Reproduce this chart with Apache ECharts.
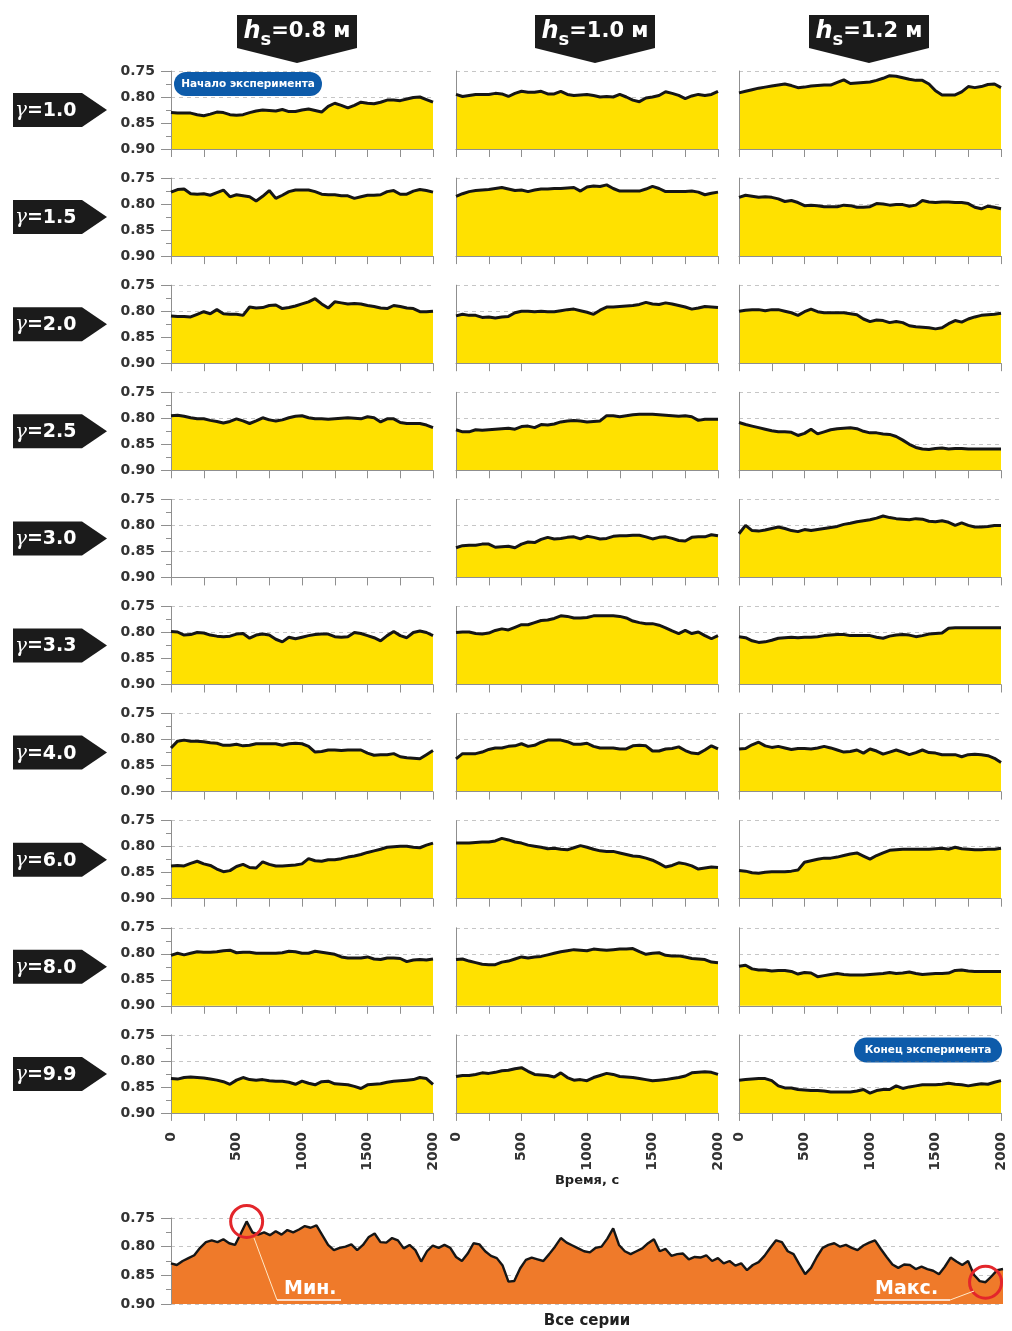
<!DOCTYPE html>
<html>
<head>
<meta charset="utf-8">
<script src="https://cdn.jsdelivr.net/npm/echarts@6/dist/echarts.min.js"></script>
<style>
html, body { margin: 0; padding: 0; background: #fff; }
#chart { width: 1012px; height: 1331px; }
</style>
</head>
<body>
<div id="chart"></div>
<script>
// time axis of the small panels, s
const times = [0,50,100,150,200,250,300,350,400,450,500,550,600,650,700,750,800,850,900,950,
  1000,1050,1100,1150,1200,1250,1300,1350,1400,1450,1500,1550,1600,1650,1700,1750,1800,1850,1900,1950,2000];
const yTicks = [0.75, 0.80, 0.85, 0.90];
const gammaValues = ['1.0','1.5','2.0','2.5','3.0','3.3','4.0','6.0','8.0','9.9'];
const hsLabels = ['0.8', '1.0', '1.2'];

// γ = 1.0
const g10_h08 = [0.830,0.831,0.831,0.831,0.834,0.836,0.833,0.829,0.830,0.834,0.835,0.834,0.830,0.827,0.825,0.826,0.827,0.824,0.828,0.828,0.825,0.823,0.826,0.829,0.818,0.812,0.816,0.821,0.816,0.810,0.812,0.813,0.810,0.806,0.806,0.807,0.804,0.801,0.800,0.805,0.810];
const g10_h10 = [0.795,0.799,0.797,0.795,0.795,0.795,0.793,0.794,0.799,0.793,0.789,0.791,0.791,0.789,0.794,0.794,0.789,0.795,0.797,0.796,0.795,0.797,0.800,0.799,0.800,0.795,0.800,0.806,0.809,0.802,0.800,0.797,0.790,0.793,0.797,0.803,0.798,0.795,0.797,0.795,0.789];
const g10_h12 = [0.792,0.789,0.786,0.783,0.781,0.779,0.777,0.775,0.778,0.782,0.781,0.779,0.778,0.777,0.777,0.772,0.767,0.774,0.773,0.772,0.771,0.768,0.764,0.759,0.760,0.763,0.766,0.768,0.768,0.775,0.788,0.796,0.796,0.796,0.790,0.780,0.782,0.780,0.776,0.775,0.782];
// γ = 1.5
const g15_h08 = [0.777,0.772,0.771,0.780,0.781,0.780,0.783,0.778,0.773,0.786,0.782,0.784,0.786,0.794,0.785,0.774,0.789,0.783,0.776,0.773,0.773,0.773,0.776,0.781,0.782,0.782,0.784,0.784,0.789,0.786,0.783,0.783,0.782,0.776,0.774,0.781,0.781,0.775,0.772,0.774,0.777];
const g15_h10 = [0.785,0.780,0.776,0.774,0.773,0.772,0.770,0.768,0.771,0.774,0.773,0.776,0.773,0.771,0.771,0.770,0.770,0.769,0.768,0.775,0.767,0.765,0.766,0.763,0.770,0.775,0.775,0.775,0.775,0.771,0.766,0.770,0.776,0.776,0.776,0.776,0.775,0.777,0.782,0.779,0.777];
const g15_h12 = [0.787,0.783,0.785,0.787,0.786,0.787,0.790,0.795,0.793,0.797,0.803,0.802,0.803,0.805,0.805,0.805,0.802,0.803,0.806,0.806,0.805,0.799,0.800,0.802,0.801,0.801,0.804,0.802,0.793,0.796,0.797,0.796,0.796,0.797,0.797,0.799,0.806,0.809,0.804,0.806,0.809];
// γ = 2.0
const g20_h08 = [0.809,0.810,0.810,0.811,0.806,0.801,0.805,0.797,0.805,0.806,0.806,0.808,0.792,0.794,0.793,0.789,0.788,0.795,0.793,0.790,0.786,0.782,0.776,0.786,0.794,0.782,0.784,0.786,0.785,0.786,0.789,0.791,0.794,0.795,0.789,0.791,0.794,0.795,0.801,0.801,0.800];
const g20_h10 = [0.809,0.806,0.808,0.808,0.812,0.811,0.813,0.811,0.810,0.803,0.800,0.800,0.801,0.800,0.801,0.801,0.799,0.797,0.796,0.799,0.802,0.806,0.798,0.792,0.792,0.791,0.790,0.789,0.787,0.783,0.786,0.787,0.784,0.786,0.789,0.792,0.796,0.794,0.791,0.792,0.793];
const g20_h12 = [0.800,0.798,0.797,0.797,0.799,0.797,0.797,0.800,0.803,0.808,0.801,0.796,0.801,0.803,0.803,0.803,0.803,0.805,0.807,0.815,0.820,0.817,0.818,0.822,0.820,0.822,0.828,0.830,0.831,0.832,0.834,0.832,0.824,0.818,0.821,0.815,0.811,0.808,0.807,0.806,0.804];
// γ = 2.5
const g25_h08 = [0.795,0.794,0.796,0.799,0.801,0.801,0.804,0.806,0.809,0.806,0.801,0.805,0.810,0.805,0.799,0.803,0.805,0.803,0.799,0.796,0.795,0.799,0.801,0.801,0.802,0.801,0.800,0.799,0.800,0.801,0.797,0.799,0.807,0.801,0.801,0.808,0.810,0.810,0.810,0.813,0.818];
const g25_h10 = [0.822,0.826,0.826,0.822,0.823,0.822,0.821,0.820,0.819,0.821,0.816,0.815,0.818,0.812,0.813,0.811,0.807,0.805,0.804,0.805,0.807,0.806,0.805,0.795,0.795,0.797,0.795,0.793,0.792,0.792,0.792,0.793,0.794,0.795,0.796,0.795,0.797,0.804,0.802,0.802,0.802];
const g25_h12 = [0.808,0.812,0.815,0.818,0.821,0.824,0.826,0.826,0.827,0.833,0.829,0.821,0.830,0.826,0.822,0.820,0.819,0.818,0.820,0.825,0.828,0.828,0.830,0.831,0.835,0.842,0.850,0.856,0.859,0.860,0.858,0.857,0.859,0.858,0.858,0.859,0.859,0.859,0.859,0.859,0.859];
// γ = 3.0 (no run at hs = 0.8 m)
const g30_h08 = [];
const g30_h10 = [0.843,0.839,0.838,0.838,0.836,0.836,0.842,0.841,0.840,0.843,0.836,0.832,0.833,0.827,0.823,0.826,0.825,0.823,0.822,0.826,0.821,0.823,0.826,0.825,0.821,0.820,0.820,0.819,0.819,0.822,0.826,0.823,0.822,0.825,0.829,0.830,0.823,0.822,0.822,0.818,0.820];
const g30_h12 = [0.816,0.800,0.810,0.811,0.809,0.806,0.803,0.806,0.810,0.812,0.808,0.810,0.808,0.806,0.804,0.802,0.798,0.796,0.793,0.791,0.789,0.786,0.782,0.785,0.787,0.788,0.789,0.787,0.788,0.792,0.793,0.791,0.794,0.800,0.795,0.800,0.803,0.803,0.802,0.800,0.800];
// γ = 3.3
const g33_h08 = [0.798,0.799,0.805,0.804,0.800,0.801,0.805,0.807,0.808,0.807,0.803,0.802,0.811,0.805,0.803,0.805,0.813,0.818,0.809,0.812,0.809,0.806,0.804,0.803,0.803,0.808,0.809,0.808,0.800,0.802,0.806,0.810,0.816,0.806,0.798,0.806,0.810,0.800,0.797,0.800,0.806];
const g33_h10 = [0.800,0.799,0.799,0.802,0.803,0.801,0.796,0.793,0.795,0.790,0.785,0.785,0.781,0.777,0.776,0.773,0.768,0.769,0.772,0.772,0.771,0.768,0.768,0.768,0.768,0.769,0.772,0.778,0.781,0.783,0.783,0.786,0.791,0.797,0.802,0.796,0.802,0.799,0.806,0.812,0.806];
const g33_h12 = [0.808,0.810,0.816,0.819,0.818,0.815,0.811,0.810,0.809,0.810,0.809,0.809,0.808,0.806,0.805,0.804,0.804,0.806,0.806,0.806,0.806,0.809,0.811,0.807,0.805,0.804,0.805,0.808,0.806,0.803,0.802,0.801,0.792,0.791,0.791,0.791,0.791,0.791,0.791,0.791,0.791];
// γ = 4.0
const g40_h08 = [0.816,0.803,0.801,0.803,0.803,0.804,0.806,0.807,0.811,0.811,0.809,0.812,0.811,0.808,0.808,0.808,0.808,0.811,0.808,0.807,0.808,0.813,0.824,0.823,0.820,0.820,0.821,0.820,0.820,0.820,0.826,0.830,0.829,0.829,0.827,0.833,0.835,0.836,0.837,0.829,0.821];
const g40_h10 = [0.837,0.827,0.827,0.827,0.824,0.819,0.816,0.816,0.813,0.812,0.808,0.813,0.811,0.805,0.801,0.801,0.801,0.804,0.809,0.809,0.807,0.813,0.816,0.816,0.816,0.818,0.818,0.812,0.811,0.812,0.822,0.822,0.818,0.817,0.814,0.821,0.826,0.827,0.820,0.812,0.818];
const g40_h12 = [0.818,0.817,0.810,0.805,0.812,0.815,0.813,0.816,0.819,0.817,0.817,0.818,0.816,0.813,0.816,0.820,0.824,0.823,0.820,0.826,0.818,0.822,0.828,0.824,0.820,0.824,0.829,0.825,0.820,0.825,0.826,0.829,0.829,0.829,0.833,0.829,0.828,0.829,0.831,0.836,0.844];
// γ = 6.0
const g60_h08 = [0.837,0.836,0.837,0.832,0.828,0.833,0.836,0.843,0.848,0.846,0.838,0.834,0.840,0.841,0.829,0.834,0.837,0.837,0.836,0.835,0.833,0.823,0.827,0.828,0.825,0.825,0.823,0.820,0.818,0.815,0.811,0.808,0.805,0.801,0.800,0.799,0.799,0.801,0.802,0.797,0.793];
const g60_h10 = [0.793,0.793,0.793,0.792,0.791,0.791,0.789,0.784,0.787,0.791,0.793,0.797,0.799,0.801,0.804,0.803,0.805,0.806,0.802,0.798,0.801,0.805,0.808,0.809,0.809,0.812,0.815,0.818,0.819,0.822,0.826,0.832,0.839,0.836,0.831,0.833,0.837,0.843,0.841,0.839,0.840];
const g60_h12 = [0.846,0.847,0.850,0.851,0.849,0.848,0.848,0.848,0.847,0.845,0.830,0.827,0.824,0.822,0.822,0.820,0.817,0.814,0.812,0.818,0.824,0.817,0.812,0.807,0.806,0.805,0.805,0.805,0.805,0.805,0.804,0.803,0.805,0.801,0.804,0.805,0.806,0.806,0.805,0.805,0.803];
// γ = 8.0
const g80_h08 = [0.803,0.799,0.802,0.799,0.796,0.797,0.797,0.796,0.794,0.793,0.798,0.797,0.797,0.799,0.799,0.799,0.799,0.798,0.795,0.796,0.799,0.799,0.795,0.797,0.799,0.801,0.806,0.808,0.808,0.808,0.806,0.810,0.811,0.808,0.808,0.809,0.815,0.812,0.811,0.812,0.810];
const g80_h10 = [0.811,0.810,0.814,0.817,0.820,0.821,0.821,0.816,0.814,0.810,0.806,0.808,0.806,0.805,0.802,0.799,0.796,0.794,0.792,0.793,0.794,0.791,0.792,0.793,0.792,0.791,0.791,0.790,0.796,0.801,0.799,0.798,0.803,0.804,0.804,0.806,0.809,0.810,0.811,0.816,0.817];
const g80_h12 = [0.824,0.822,0.829,0.831,0.831,0.833,0.832,0.832,0.834,0.839,0.836,0.837,0.844,0.842,0.840,0.838,0.840,0.841,0.841,0.841,0.840,0.839,0.838,0.836,0.838,0.837,0.835,0.838,0.840,0.839,0.838,0.838,0.837,0.832,0.831,0.833,0.834,0.834,0.834,0.834,0.834];
// γ = 9.9
const g99_h08 = [0.834,0.835,0.832,0.831,0.832,0.833,0.835,0.837,0.840,0.845,0.837,0.832,0.836,0.837,0.836,0.838,0.839,0.839,0.841,0.845,0.839,0.843,0.846,0.840,0.839,0.844,0.845,0.846,0.849,0.853,0.846,0.845,0.844,0.841,0.839,0.838,0.837,0.836,0.832,0.834,0.845];
const g99_h10 = [0.830,0.828,0.828,0.826,0.823,0.824,0.822,0.819,0.818,0.815,0.813,0.820,0.826,0.827,0.828,0.831,0.823,0.832,0.837,0.836,0.838,0.832,0.828,0.824,0.826,0.830,0.831,0.832,0.834,0.836,0.838,0.837,0.836,0.834,0.832,0.829,0.823,0.822,0.821,0.822,0.826];
const g99_h12 = [0.837,0.836,0.835,0.834,0.834,0.838,0.848,0.852,0.852,0.855,0.856,0.857,0.857,0.858,0.860,0.860,0.860,0.860,0.858,0.855,0.862,0.857,0.855,0.855,0.848,0.853,0.850,0.848,0.846,0.846,0.846,0.845,0.843,0.845,0.846,0.848,0.846,0.844,0.845,0.841,0.838];

// all runs, one after another
const allSeries = [0.829,0.832,0.825,0.820,0.815,0.802,0.792,0.789,0.792,0.787,0.794,0.797,0.777,0.756,0.775,0.779,0.775,0.780,0.773,0.779,
  0.771,0.775,0.770,0.764,0.767,0.763,0.780,0.797,0.806,0.802,0.800,0.796,0.806,0.797,0.783,0.777,0.792,0.793,0.785,0.789,
  0.803,0.797,0.806,0.826,0.808,0.798,0.802,0.797,0.802,0.818,0.825,0.812,0.794,0.796,0.808,0.816,0.820,0.833,0.861,0.860,
  0.838,0.823,0.819,0.822,0.825,0.813,0.800,0.785,0.793,0.798,0.803,0.808,0.810,0.802,0.800,0.786,0.768,0.797,0.808,0.813,
  0.808,0.803,0.794,0.787,0.808,0.804,0.816,0.813,0.812,0.822,0.818,0.819,0.815,0.825,0.820,0.829,0.825,0.833,0.829,0.841,
  0.832,0.827,0.816,0.802,0.789,0.792,0.808,0.813,0.831,0.848,0.837,0.818,0.802,0.797,0.794,0.800,0.797,0.802,0.806,0.798,
  0.793,0.789,0.804,0.818,0.831,0.837,0.831,0.832,0.839,0.835,0.839,0.842,0.848,0.835,0.819,0.826,0.832,0.825,0.849,0.860,
  0.862,0.852,0.841,0.839];

const panels = [
  [g10_h08, g10_h10, g10_h12],
  [g15_h08, g15_h10, g15_h12],
  [g20_h08, g20_h10, g20_h12],
  [g25_h08, g25_h10, g25_h12],
  [g30_h08, g30_h10, g30_h12],
  [g33_h08, g33_h10, g33_h12],
  [g40_h08, g40_h10, g40_h12],
  [g60_h08, g60_h10, g60_h12],
  [g80_h08, g80_h10, g80_h12],
  [g99_h08, g99_h10, g99_h12]
];

const ROW_TOP = 71, ROW_STEP = 107.1, ROW_H = 78;
const COL_LEFT = [171, 456, 739], COL_W = 262;
const AXIS_GREY = '#8f8f8f';
const FONT = '"DejaVu Sans", sans-serif';

const grids = [], xAxes = [], yAxes = [], series = [];

const yAxisFor = (i, withLabels) => ({
  gridIndex: i,
  type: 'value',
  inverse: true,
  min: yTicks[0],
  max: yTicks[yTicks.length - 1],
  interval: 0.05,
  z: 3,
  axisLine: { show: true, lineStyle: { color: AXIS_GREY, width: 1 } },
  axisTick: { show: withLabels, length: 10, lineStyle: { color: AXIS_GREY } },
  minorTick: { show: withLabels, splitNumber: 2, length: 5, lineStyle: { color: AXIS_GREY } },
  axisLabel: {
    show: withLabels, margin: 16, formatter: v => v.toFixed(2),
    fontFamily: FONT, fontSize: 14, fontWeight: 'bold', color: '#333'
  },
  splitLine: { show: true, lineStyle: { color: 'rgba(120,120,120,0.42)', type: [4, 4], width: 1 } }
});

panels.forEach((row, r) => {
  row.forEach((vals, c) => {
    const i = grids.length;
    grids.push({ left: COL_LEFT[c], top: ROW_TOP + r * ROW_STEP, width: COL_W, height: ROW_H });
    xAxes.push({
      gridIndex: i,
      type: 'value',
      min: 0, max: 2000, interval: 250,
      z: 3,
      axisLine: { onZero: false, lineStyle: { color: AXIS_GREY } },
      axisTick: { length: 8, lineStyle: { color: AXIS_GREY } },
      splitLine: { show: false },
      axisLabel: {
        show: r === panels.length - 1,
        rotate: 90, margin: 19,
        formatter: v => (v % 500 === 0 ? String(v) : ''),
        fontFamily: FONT, fontSize: 14, fontWeight: 'bold', color: '#333'
      }
    });
    yAxes.push(yAxisFor(i, c === 0));
    if (vals.length) {
      series.push({
        type: 'line',
        xAxisIndex: i, yAxisIndex: i,
        data: vals.map((v, k) => [times[k], v]),
        symbol: 'none',
        silent: true,
        lineStyle: { color: '#161616', width: 3 },
        areaStyle: { color: '#FFE100', opacity: 1, origin: 'end' }
      });
    }
  });
});

// bottom panel: all series
const bi = grids.length;
grids.push({ left: 171, top: 1218, width: 832, height: 86 });
xAxes.push({
  gridIndex: bi, type: 'value', min: 0, max: allSeries.length - 1,
  axisLine: { show: false }, axisTick: { show: false }, axisLabel: { show: false }, splitLine: { show: false }
});
yAxes.push(yAxisFor(bi, true));
series.push({
  type: 'line',
  xAxisIndex: bi, yAxisIndex: bi,
  data: allSeries.map((v, k) => [k, v]),
  symbol: 'none',
  lineStyle: { color: '#161616', width: 2.4 },
  areaStyle: { color: '#EF7A2A', opacity: 1, origin: 'end' },
  markPoint: {
    symbol: 'circle',
    symbolSize: 32,
    silent: true,
    label: { show: false },
    itemStyle: { color: 'rgba(0,0,0,0)', borderColor: '#E3262B', borderWidth: 3 },
    data: [{ type: 'min' }, { type: 'max' }]
  }
});

// decorations: column headers, row tags, notes
const graphic = [];
const headerCx = [297, 595, 869];
headerCx.forEach((cx, c) => {
  graphic.push({
    type: 'polygon', silent: true,
    shape: { points: [[cx - 60, 15], [cx + 60, 15], [cx + 60, 48], [cx, 63], [cx - 60, 48]] },
    style: { fill: '#1b1b1b' }
  });
  graphic.push({
    type: 'text', silent: true, x: cx, y: 32,
    style: {
      text: '{h|h}{s|s}{n|=' + hsLabels[c] + ' м}',
      align: 'center', verticalAlign: 'middle', textAlign: 'center', textVerticalAlign: 'middle',
      fill: '#fff',
      rich: {
        h: { fontFamily: FONT, fontSize: 24, fontStyle: 'italic', fontWeight: 'bold', color: '#fff', lineHeight: 34 },
        s: { fontFamily: FONT, fontSize: 18, fontWeight: 'bold', color: '#fff', verticalAlign: 'bottom', lineHeight: 18 },
        n: { fontFamily: FONT, fontSize: 21, fontWeight: 'bold', color: '#fff', lineHeight: 34 }
      }
    }
  });
});

gammaValues.forEach((val, r) => {
  const cy = ROW_TOP + r * ROW_STEP + 39;
  graphic.push({
    type: 'polygon', silent: true,
    shape: { points: [[13, cy - 17], [82, cy - 17], [107, cy], [82, cy + 17], [13, cy + 17]] },
    style: { fill: '#1b1b1b' }
  });
  graphic.push({
    type: 'text', silent: true, x: 15, y: cy + 1,
    style: {
      text: '{g|γ}{n|=' + val + '}',
      align: 'left', verticalAlign: 'middle', textAlign: 'left', textVerticalAlign: 'middle',
      fill: '#fff',
      rich: {
        g: { fontFamily: '"DejaVu Serif", serif', fontSize: 20, fontStyle: 'italic', color: '#fff' },
        n: { fontFamily: FONT, fontSize: 19, fontWeight: 'bold', color: '#fff' }
      }
    }
  });
});

const pill = (cx, cy, w, h, txt) => {
  graphic.push({
    type: 'rect', silent: true,
    shape: { x: cx - w / 2, y: cy - h / 2, width: w, height: h, r: h / 2 },
    style: { fill: '#0D5BAA' }
  });
  graphic.push({
    type: 'text', silent: true, x: cx, y: cy,
    style: {
      text: txt, font: 'bold 10.5px ' + FONT, fill: '#fff',
      align: 'center', verticalAlign: 'middle', textAlign: 'center', textVerticalAlign: 'middle'
    }
  });
};
pill(248, 84, 148, 24, 'Начало эксперимента');
pill(928, 1050, 148, 25, 'Конец эксперимента');

const caption = (x, y, txt, size) => graphic.push({
  type: 'text', silent: true, x: x, y: y,
  style: {
    text: txt, font: 'bold ' + size + 'px ' + FONT, fill: '#222',
    align: 'center', verticalAlign: 'middle', textAlign: 'center', textVerticalAlign: 'middle'
  }
});
caption(587, 1181, 'Время, с', 13);
caption(587, 1321, 'Все серии', 15);

// min / max callouts on the bottom panel
const callout = (tx, txt, ux0, ux1, lx0, ly0, lx1, ly1) => {
  graphic.push({
    type: 'line', silent: true, z: 10,
    shape: { x1: lx0, y1: ly0, x2: lx1, y2: ly1 },
    style: { stroke: '#FFE9C8', lineWidth: 1 }
  });
  graphic.push({
    type: 'line', silent: true, z: 10,
    shape: { x1: ux0, y1: 1300, x2: ux1, y2: 1300 },
    style: { stroke: '#fff', lineWidth: 1.5 }
  });
  graphic.push({
    type: 'text', silent: true, z: 10, x: tx, y: 1289,
    style: {
      text: txt, font: 'bold 19px ' + FONT, fill: '#fff',
      align: 'left', verticalAlign: 'middle', textAlign: 'left', textVerticalAlign: 'middle'
    }
  });
};
callout(284, 'Мин.', 277, 341, 254, 1238, 277, 1300);
callout(875, 'Макс.', 874, 950, 950, 1300, 974, 1291);

const chart = echarts.init(document.getElementById('chart'), null, { renderer: 'canvas' });
chart.setOption({
  animation: false,
  backgroundColor: '#fff',
  grid: grids,
  xAxis: xAxes,
  yAxis: yAxes,
  series: series,
  graphic: graphic
});
</script>
</body>
</html>
